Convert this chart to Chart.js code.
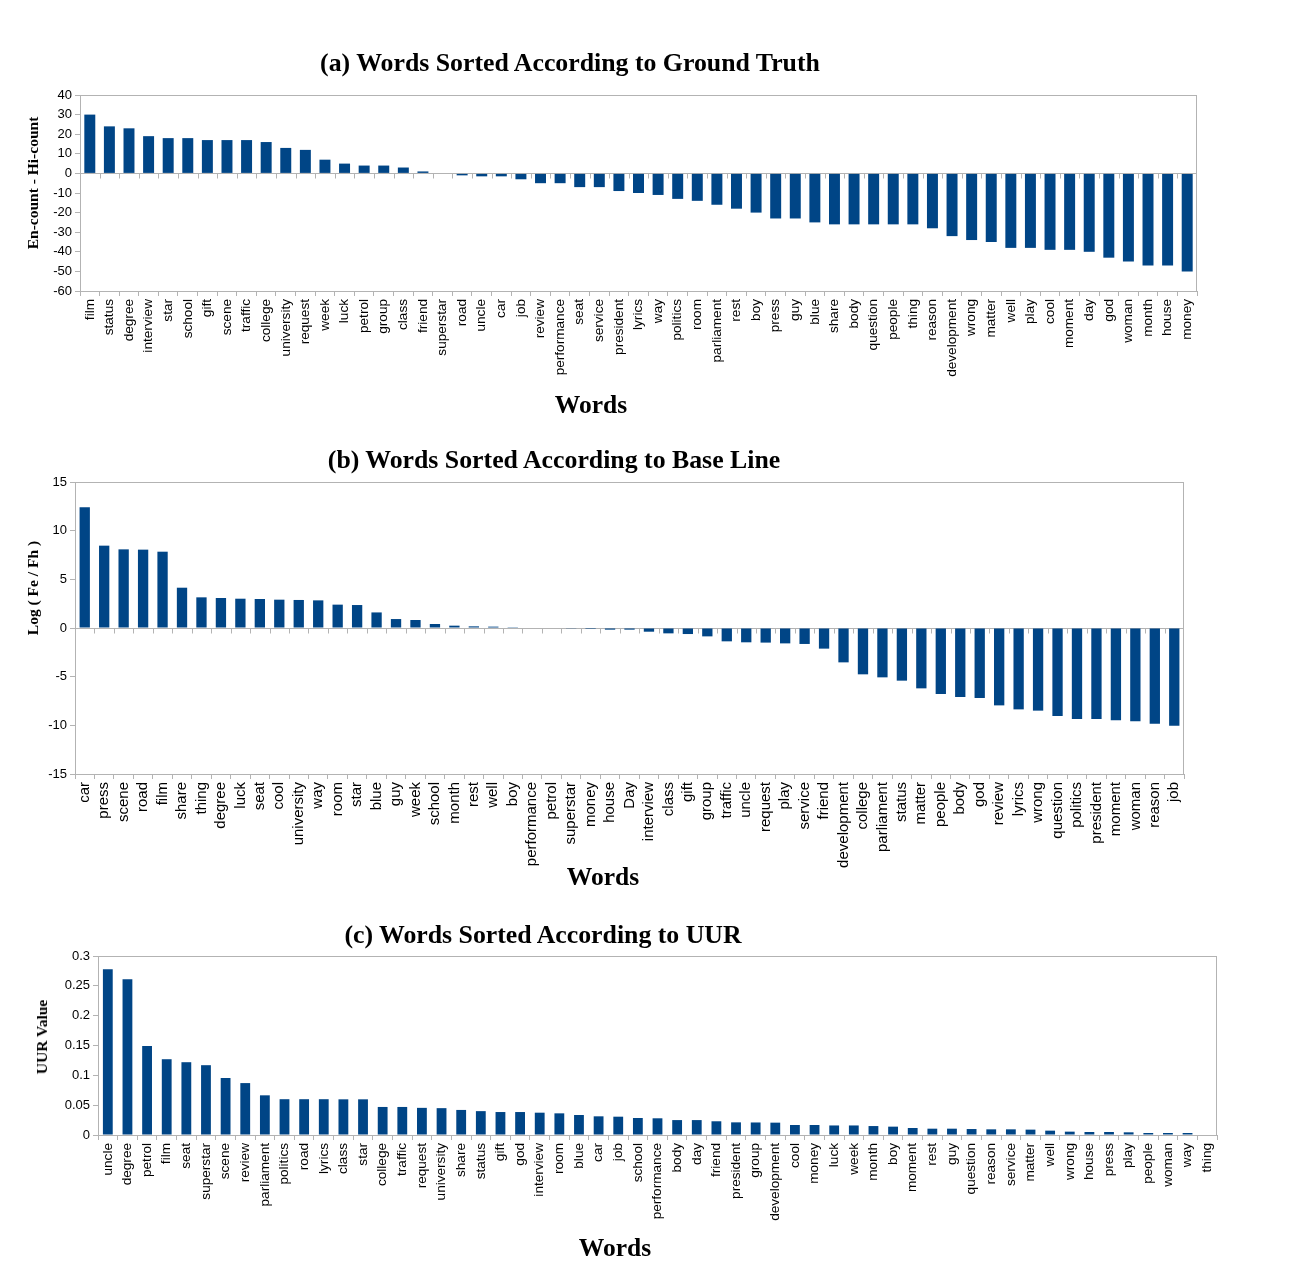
<!DOCTYPE html>
<html>
<head>
<meta charset="utf-8">
<script src="https://cdn.jsdelivr.net/npm/chart.js@4.4.0/dist/chart.umd.min.js"></script>
<style>
body { margin: 0; background: #fff; }
#page { position: relative; width: 1290px; height: 1280px; }
canvas { position: absolute; left: 0; }
.t { position: absolute; font-family: "Liberation Serif", "DejaVu Serif", serif; font-weight: bold; white-space: nowrap; transform: translate(-50%, -50%); color: #000; }
.ttl { font-size: 25.8px; }
.xt { font-size: 25.5px; }
.yt { font-size: 15.5px; transform: translate(-50%, -50%) rotate(-90deg); }
</style>
</head>
<body>
<div id="page">
  <canvas id="chartA" width="1290" height="430" style="top:0"></canvas>
  <canvas id="chartB" width="1290" height="470" style="top:430px"></canvas>
  <canvas id="chartC" width="1290" height="380" style="top:900px"></canvas>

  <div class="t ttl" style="left:570px;top:63px">(a) Words Sorted According to Ground Truth</div>
  <div class="t yt" style="left:33px;top:183px">En-count - Hi-count</div>
  <div class="t xt" style="left:591px;top:405px">Words</div>

  <div class="t ttl" style="left:554px;top:460px">(b) Words Sorted According to Base Line</div>
  <div class="t yt" style="left:33px;top:588px">Log ( Fe / Fh )</div>
  <div class="t xt" style="left:603px;top:877px">Words</div>

  <div class="t ttl" style="left:543px;top:935px">(c) Words Sorted According to UUR</div>
  <div class="t yt" style="left:42px;top:1037px">UUR Value</div>
  <div class="t xt" style="left:615px;top:1248px">Words</div>
</div>
<script>
// (a) ground truth
const gtWords = ['film', 'status', 'degree', 'interview', 'star', 'school', 'gift', 'scene', 'traffic', 'college',
  'university', 'request', 'week', 'luck', 'petrol', 'group', 'class', 'friend', 'superstar', 'road',
  'uncle', 'car', 'job', 'review', 'performance', 'seat', 'service', 'president', 'lyrics', 'way',
  'politics', 'room', 'parliament', 'rest', 'boy', 'press', 'guy', 'blue', 'share', 'body',
  'question', 'people', 'thing', 'reason', 'development', 'wrong', 'matter', 'well', 'play', 'cool',
  'moment', 'day', 'god', 'woman', 'month', 'house', 'money'];
const gtValues = [30, 24, 23, 19, 18, 18, 17, 17, 17, 16,
  13, 12, 7, 5, 4, 4, 3, 1, 0, -1,
  -1.5, -1.5, -3, -5, -5, -7, -7, -9, -10, -11,
  -13, -14, -16, -18, -20, -23, -23, -25, -26, -26,
  -26, -26, -26, -28, -32, -34, -35, -38, -38, -39,
  -39, -40, -43, -45, -47, -47, -50];

// (b) base line
const blWords = ['car', 'press', 'scene', 'road', 'film', 'share', 'thing', 'degree', 'luck', 'seat',
  'cool', 'university', 'way', 'room', 'star', 'blue', 'guy', 'week', 'school', 'month',
  'rest', 'well', 'boy', 'performance', 'petrol', 'superstar', 'money', 'house', 'Day', 'interview',
  'class', 'gift', 'group', 'traffic', 'uncle', 'request', 'play', 'service', 'friend', 'development',
  'college', 'parliament', 'status', 'matter', 'people', 'body', 'god', 'review', 'lyrics', 'wrong',
  'question', 'politics', 'president', 'moment', 'woman', 'reason', 'job'];
const blValues = [12.4, 8.46, 8.08, 8.05, 7.84, 4.14, 3.15, 3.08, 3.01, 2.98,
  2.91, 2.88, 2.84, 2.4, 2.36, 1.6, 0.92, 0.82, 0.41, 0.24,
  0.17, 0.14, 0.02, 0, -0.05, -0.07, -0.1, -0.17, -0.17, -0.38,
  -0.55, -0.62, -0.86, -1.37, -1.47, -1.5, -1.58, -1.64, -2.12, -3.53,
  -4.76, -5.07, -5.41, -6.2, -6.78, -7.09, -7.19, -7.95, -8.36, -8.49,
  -9.04, -9.35, -9.35, -9.49, -9.59, -9.83, -10.03];

// (c) UUR
const uurWords = ['uncle', 'degree', 'petrol', 'film', 'seat', 'superstar', 'scene', 'review', 'parliament', 'politics',
  'road', 'lyrics', 'class', 'star', 'college', 'traffic', 'request', 'university', 'share', 'status',
  'gift', 'god', 'interview', 'room', 'blue', 'car', 'job', 'school', 'performance', 'body',
  'day', 'friend', 'president', 'group', 'development', 'cool', 'money', 'luck', 'week', 'month',
  'boy', 'moment', 'rest', 'guy', 'question', 'reason', 'service', 'matter', 'well', 'wrong',
  'house', 'press', 'play', 'people', 'woman', 'way', 'thing'];
const uurValues = [0.278, 0.261, 0.149, 0.127, 0.122, 0.117, 0.0955, 0.087, 0.0665, 0.06,
  0.06, 0.06, 0.0598, 0.0598, 0.047, 0.047, 0.0455, 0.045, 0.042, 0.04,
  0.0385, 0.0385, 0.0374, 0.0363, 0.0335, 0.0313, 0.0307, 0.0285, 0.028, 0.025,
  0.025, 0.023, 0.0212, 0.021, 0.0207, 0.0168, 0.0168, 0.016, 0.016, 0.015,
  0.014, 0.0117, 0.0106, 0.0106, 0.01, 0.0095, 0.0095, 0.009, 0.0073, 0.0056,
  0.005, 0.005, 0.0045, 0.0034, 0.0034, 0.0034, 0.0008];

const BLUE = '#004586';
const GREY = '#b3b3b3';

// frame round the plot + small tick marks hanging off the zero line
const framePlugin = {
  id: 'frame',
  afterDraw(chart) {
    const { ctx, chartArea: a, scales } = chart;
    ctx.save();
    ctx.strokeStyle = GREY;
    ctx.lineWidth = 1;
    ctx.strokeRect(a.left + 0.5, a.top + 0.5, a.right - a.left - 1, a.bottom - a.top);
    const y0 = Math.round(scales.y.getPixelForValue(0)) + 0.5;
    if (y0 < a.bottom - 2) {
      const n = scales.x.ticks.length;
      const w = (a.right - a.left) / n;
      ctx.beginPath();
      for (let i = 1; i < n; i++) {
        const x = Math.round(a.left + i * w) + 0.5;
        ctx.moveTo(x, y0);
        ctx.lineTo(x, y0 + 5);
      }
      ctx.stroke();
    }
    ctx.restore();
  }
};

function makeChart(id, words, values, opt) {
  return new Chart(document.getElementById(id), {
    type: 'bar',
    data: {
      labels: words,
      datasets: [{ data: values, backgroundColor: BLUE, borderWidth: 0, barPercentage: opt.bar, categoryPercentage: 1 }]
    },
    options: {
      responsive: false,
      animation: false,
      layout: { padding: { top: opt.top, right: opt.right, left: 0, bottom: 0 } },
      plugins: { legend: { display: false }, tooltip: { enabled: false } },
      scales: {
        x: {
          afterFit: s => { s.height = opt.xh; },
          grid: { offset: true, drawOnChartArea: false, color: GREY, tickLength: 5 },
          border: { color: GREY },
          ticks: { autoSkip: false, minRotation: 90, maxRotation: 90, padding: 3, color: '#000',
            font: { family: 'Liberation Sans', size: opt.xfont } }
        },
        y: {
          min: opt.min, max: opt.max,
          afterFit: s => { s.width = opt.left; },
          grid: {
            color: c => (c.tick && c.tick.value === 0 ? GREY : 'rgba(0,0,0,0)'),
            tickColor: GREY, tickLength: 5
          },
          border: { color: GREY },
          ticks: { stepSize: opt.step, padding: 3, color: '#000', font: { family: 'Liberation Sans', size: 13 },
            callback: v => String(Number(v.toFixed(2))) }
        }
      }
    },
    plugins: [framePlugin]
  });
}

makeChart('chartA', gtWords, gtValues, { top: 95, right: 93, left: 80, xh: 139, min: -60, max: 40, step: 10, bar: 0.56, xfont: 13.6 });
makeChart('chartB', blWords, blValues, { top: 52, right: 106, left: 75, xh: 126, min: -15, max: 15, step: 5, bar: 0.53, xfont: 15 });
makeChart('chartC', uurWords, uurValues, { top: 56, right: 73, left: 98, xh: 145, min: 0, max: 0.3, step: 0.05, bar: 0.5, xfont: 13.6 });
</script>
</body>
</html>
